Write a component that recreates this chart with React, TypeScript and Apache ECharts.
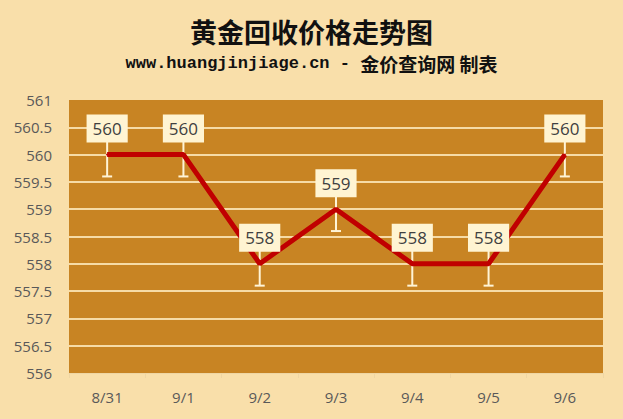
import React, { useRef, useEffect } from 'react';
import * as echarts from 'echarts';

const dates = ['8/31', '9/1', '9/2', '9/3', '9/4', '9/5', '9/6'];
const prices = [560, 560, 558, 559, 558, 558, 560];
const lows = [559.6, 559.6, 557.6, 558.6, 557.6, 557.6, 559.6];

const App: React.FC = () => {
  const chartRef = useRef<HTMLDivElement>(null);

  useEffect(() => {
    if (!chartRef.current) return;
    document.body.style.margin = '0';
    const myChart = echarts.init(chartRef.current, null, { renderer: 'svg' });

    const option: echarts.EChartsOption = {
      animation: false,
      backgroundColor: '#F9DFAA',
      title: [
        {
          text: '黄金回收价格走势图',
          left: 'center',
          top: 13,
          textStyle: {
            fontFamily: '"Noto Sans CJK SC", serif',
            fontWeight: 'bold',
            fontSize: 27,
            color: '#111'
          }
        },
        {
          text: '{a|www.huangjinjiage.cn - }{b|金价查询网 制表}',
          left: 'center',
          top: 49,
          textStyle: {
            rich: {
              a: {
                fontFamily: '"Liberation Mono", monospace',
                fontWeight: 'bold',
                fontSize: 17,
                color: '#111'
              },
              b: {
                fontFamily: '"Noto Sans CJK SC", sans-serif',
                fontWeight: 'bold',
                fontSize: 19,
                color: '#111'
              }
            }
          }
        }
      ],
      grid: {
        left: 69,
        right: 20,
        top: 100,
        bottom: 46,
        show: true,
        backgroundColor: '#C88423',
        borderWidth: 0
      },
      xAxis: {
        type: 'category',
        data: dates,
        axisLine: { lineStyle: { color: '#EFD6A4', width: 1 } },
        axisTick: { show: true, lineStyle: { color: '#EFD6A4' } },
        axisLabel: {
          color: '#595959',
          fontSize: 15,
          fontFamily: '"Open Sans", sans-serif',
          margin: 16
        }
      },
      yAxis: {
        type: 'value',
        min: 556,
        max: 561,
        interval: 0.5,
        axisLine: { show: false },
        axisTick: { show: false },
        axisLabel: {
          color: '#595959',
          fontSize: 15,
          fontFamily: '"Open Sans", sans-serif',
          margin: 17
        },
        splitLine: {
          showMinLine: false,
          showMaxLine: false,
          lineStyle: { color: '#F6DBA6', width: 2 }
        }
      },
      series: [
        {
          type: 'custom',
          z: 2,
          silent: true,
          data: prices.map((p, i) => [i, p, lows[i]]),
          encode: { x: 0, y: 1 },
          renderItem: (params: any, api: any) => {
            const pt = api.coord([api.value(0), api.value(1)]);
            const lo = api.coord([api.value(0), api.value(2)]);
            const style = { stroke: '#FFF4D6', lineWidth: 2 };
            return {
              type: 'group',
              children: [
                {
                  type: 'line',
                  shape: { x1: pt[0], y1: pt[1] - 14, x2: lo[0], y2: lo[1] },
                  style
                },
                {
                  type: 'line',
                  shape: { x1: lo[0] - 5, y1: lo[1], x2: lo[0] + 5, y2: lo[1] },
                  style
                }
              ]
            };
          }
        },
        {
          type: 'line',
          z: 3,
          data: prices,
          symbol: 'circle',
          symbolSize: 2,
          itemStyle: { color: '#C00000' },
          lineStyle: { color: '#C00000', width: 5 },
          label: {
            show: true,
            position: 'top',
            distance: 11,
            backgroundColor: '#FFF4D2',
            color: '#404040',
            fontSize: 17,
            lineHeight: 20,
            fontFamily: '"Open Sans", sans-serif',
            padding: [4, 6, 4, 6]
          }
        }
      ]
    };

    myChart.setOption(option);

    const handleResize = () => {
      myChart.resize();
    };
    window.addEventListener('resize', handleResize);

    return () => {
      window.removeEventListener('resize', handleResize);
      myChart.dispose();
    };
  }, []);

  return (
    <div
      ref={chartRef}
      style={{ position: 'fixed', left: 0, top: 0, width: '623px', height: '419px' }}
    />
  );
};

export default App;
